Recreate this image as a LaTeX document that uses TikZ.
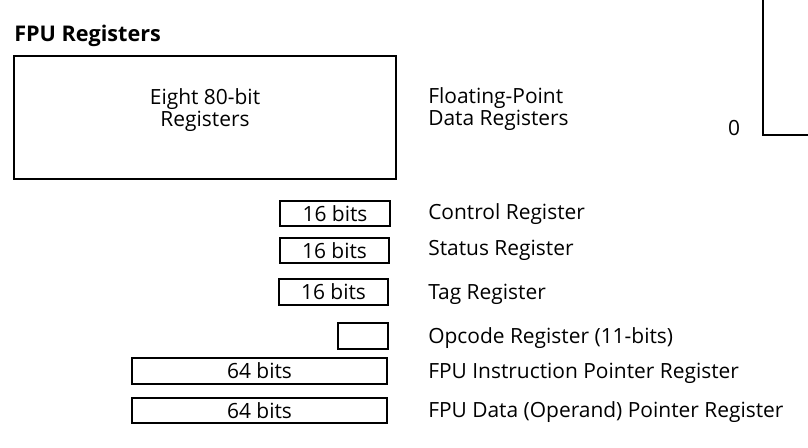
\documentclass[tikz,border=0pt]{standalone}
\usepackage{fontspec}
\setmainfont{Open Sans}
\begin{document}
\begin{tikzpicture}[x=0.75pt,y=-0.75pt,
  lbl/.style={anchor=west,inner sep=0pt,font=\fontsize{15.7}{16.5}\selectfont},
  reg/.style={draw,line width=0.9pt,inner sep=0pt,font=\fontsize{15.7}{16.5}\selectfont},
  ln/.style={line width=0.9pt}]
\useasboundingbox (0,0) rectangle (808,447);
\node[anchor=west,inner sep=0pt,font=\bfseries\fontsize{16.2}{18}\selectfont] (title) at (14,36) {FPU Registers};
\node[reg,minimum width=382*0.75pt,minimum height=123*0.75pt] (big) at (205,117.5) {};
\node[inner sep=0pt,align=center,font=\fontsize{15.7}{16.5}\selectfont] (bigt) at (205,110) {Eight 80-bit\\Registers};
\node[lbl,align=left] (fpd) at (428,109) {Floating-Point\\Data Registers};
\node[anchor=center,inner sep=0pt,font=\fontsize{15.7}{16.5}\selectfont] (zero) at (734,128) {0};
\coordinate (vt) at (763,0);
\coordinate (vb) at (763,135);
\coordinate (hr) at (808,135);
\draw[ln] (vt) -- (vb) -- (hr);
\node[reg,minimum width=110*0.75pt,minimum height=25*0.75pt] (c) at (335,213.5) {16 bits};
\node[reg,minimum width=109*0.75pt,minimum height=25*0.75pt] (s) at (334.5,250.5) {16 bits};
\node[reg,minimum width=109*0.75pt,minimum height=26*0.75pt] (t) at (333.5,292) {16 bits};
\node[reg,minimum width=50*0.75pt,minimum height=26*0.75pt] (o) at (363,336) {};
\node[reg,minimum width=255*0.75pt,minimum height=26*0.75pt] (ip) at (259.5,371) {64 bits};
\node[reg,minimum width=255*0.75pt,minimum height=25*0.75pt] (dp) at (259.5,410.5) {64 bits};
\node[lbl] (cl) at (428,214) {Control Register};
\node[lbl] (sl) at (428,250) {Status Register};
\node[lbl] (tl) at (428,294) {Tag Register};
\node[lbl] (ol) at (428,338) {Opcode Register (11-bits)};
\node[lbl] (il) at (428,373) {FPU Instruction Pointer Register};
\node[lbl] (dl) at (428,412) {FPU Data (Operand) Pointer Register};
\end{tikzpicture}
\end{document}
